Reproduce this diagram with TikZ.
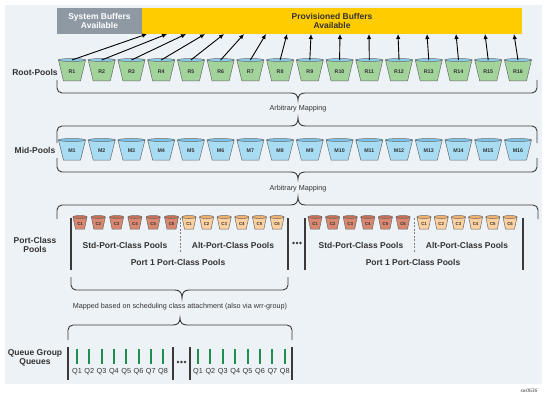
\documentclass[tikz,border=0pt]{standalone}
\usepackage{fontspec}
\setmainfont{Liberation Sans}
\newfontfamily\swfont{Liberation Serif}
\usetikzlibrary{arrows.meta}
\definecolor{panel}{HTML}{EDF2F7}
\definecolor{sysgray}{HTML}{8E99A4}
\definecolor{provyellow}{HTML}{FFCC00}
\definecolor{txt}{HTML}{333333}
\definecolor{rootfill}{HTML}{A2D39B}
\definecolor{rootrim}{HTML}{8ACBEA}
\definecolor{midfill}{HTML}{A8DCF3}
\definecolor{midrim}{HTML}{7BC3E8}
\definecolor{stdfill}{HTML}{D9876F}
\definecolor{stdrim}{HTML}{C86F57}
\definecolor{altfill}{HTML}{FDD09F}
\definecolor{altrim}{HTML}{F2B26E}
\definecolor{bktedge}{HTML}{6A6A6A}
\definecolor{qgreen}{HTML}{1E8F4E}
\definecolor{linec}{HTML}{3A3A3A}
% #1 name, #2 x, #3 y top, #4 half top width, #5 half bottom width, #6 height, #7 colour prefix, #8 label, #9 label size
\newcommand\bucket[9]{%
  \filldraw[fill=#7fill, draw=bktedge, line width=0.5pt] ({#2-#4},#3) -- ({#2+#4},#3) -- ({#2+#5},{#3+#6}) -- ({#2-#5},{#3+#6}) -- cycle;
  \filldraw[fill=#7rim, draw=bktedge, line width=0.5pt] (#2,#3) ellipse [x radius=#4pt, y radius=1.5pt];
  \coordinate (#1-top) at (#2,#3);
  \node[bktlabel, font=\fontsize{#9}{#9}\selectfont\bfseries] (#1) at ({#2},{#3+#6/2+1}) {#8};
}
% brace: #1 xl, #2 xr, #3 y of ends, #4 y of long line, #5 x tip, #6 y tip
\newcommand\tbrace[6]{%
  \draw[brace, rounded corners=5pt] (#1,#3) -- (#1,#4) -- ({#5-7},#4);
  \draw[brace] ({#5-7},#4) .. controls ({#5-2},#4) and (#5,{#4+0.4*(#6-#4)}) .. (#5,#6)
     .. controls (#5,{#4+0.4*(#6-#4)}) and ({#5+2},#4) .. ({#5+7},#4);
  \draw[brace, rounded corners=5pt] ({#5+7},#4) -- (#2,#4) -- (#2,#3);
}
\begin{document}
\begin{tikzpicture}[x=1pt, y=-1pt,
  lbl/.style={font=\fontsize{8.5}{9.5}\selectfont\bfseries, text=txt, align=center, inner sep=0},
  bktlabel/.style={text=txt, inner sep=0},
  small/.style={font=\fontsize{7.2}{8}\selectfont, text=txt, inner sep=0},
  qlbl/.style={font=\fontsize{7.3}{8}\selectfont, text=txt, inner sep=0},
  brace/.style={draw=linec, line width=0.9pt},
  bar/.style={draw=linec, line width=2pt},
  arr/.style={draw=black, line width=0.9pt, -{Latex[length=5pt,width=4.5pt]}},
  qbar/.style={draw=qgreen, line width=2pt},
  sep/.style={draw=gray, line width=0.6pt, dash pattern=on 2pt off 1.5pt}]
\useasboundingbox (0,0) rectangle (548,401);
\fill[panel] (5,5) rectangle (542,384);

% top boxes
\fill[sysgray] (57,8) rectangle (142,34);
\fill[provyellow] (142,8) rectangle (522,34);
\node[lbl, text=white] (sys) at (99.5,21) {System Buffers\\Available};
\node[lbl] (prov) at (332,21) {Provisioned Buffers\\Available};

% left labels
\node[lbl] (lroot) at (35,72) {Root-Pools};
\node[lbl] (lmid) at (35,150) {Mid-Pools};
\node[lbl] (lport) at (35,245) {Port-Class\\Pools};
\node[lbl] (lqueue) at (35,358) {Queue Group\\Queues};

% root pools
\foreach \i in {1,...,16} {
  \pgfmathsetmacro\xx{72+29.73*(\i-1)}
  \bucket{R\i}{\xx}{60}{13.5}{8.5}{21}{root}{R\i}{5.3}
}
\foreach \i/\t in {1/147,2/167,3/186,4/205,5/224,6/244,7/266,8/287,9/311,10/340,11/369,12/398,13/427,14/456,15/485,16/514} {
  \coordinate (p\i) at (\t,34);
  \draw[arr] (R\i-top) -- (p\i);
}
\tbrace{57}{537}{80}{93}{298}{100}
\node[small] (am1) at (298,109) {Arbitrary Mapping};

% mid pools
\tbrace{57}{537}{143}{126}{298}{118}
\foreach \i in {1,...,16} {
  \pgfmathsetmacro\xx{72+29.73*(\i-1)}
  \bucket{M\i}{\xx}{140}{13.5}{8.5}{20}{mid}{M\i}{5.3}
}
\tbrace{57}{537}{158}{172}{298}{179}
\node[small] (am2) at (298,189) {Arbitrary Mapping};

% port-class pools
\tbrace{57}{538}{219}{205}{298}{197}
\draw[bar] (71,218) -- (71,270);
\draw[bar] (288,218) -- (288,270);
\draw[bar] (305,218) -- (305,270);
\draw[bar] (523,218) -- (523,270);
\foreach \k in {293.5,297,300.5} \fill[linec] (\k,243) circle[radius=1.4pt];
\draw[sep] (180.5,218) -- (180.5,252);
\draw[sep] (414,218) -- (414,252);
\foreach \i in {1,...,6} {
  \pgfmathsetmacro\xa{80+18.3*(\i-1)}
  \bucket{sa\i}{\xa}{217}{7}{4.5}{12}{std}{C\i}{4.3}
  \pgfmathsetmacro\xb{189+17.6*(\i-1)}
  \bucket{aa\i}{\xb}{217}{7}{4.5}{12}{alt}{C\i}{4.3}
  \pgfmathsetmacro\xc{315+17.6*(\i-1)}
  \bucket{sb\i}{\xc}{217}{7}{4.5}{12}{std}{C\i}{4.3}
  \pgfmathsetmacro\xd{424+17.2*(\i-1)}
  \bucket{ab\i}{\xd}{217}{7}{4.5}{12}{alt}{C\i}{4.3}
}
\node[lbl] (std1) at (125,245) {Std-Port-Class Pools};
\node[lbl] (alt1) at (233,245) {Alt-Port-Class Pools};
\node[lbl] (port1) at (178,262) {Port 1 Port-Class Pools};
\node[lbl] (std2) at (361,245) {Std-Port-Class Pools};
\node[lbl] (alt2) at (467,245) {Alt-Port-Class Pools};
\node[lbl] (port2) at (413,262) {Port 1 Port-Class Pools};

\tbrace{71}{288}{277}{290}{182}{298}
\node[small] (mapped) at (180,307) {Mapped based on scheduling class attachment (also via wrr-group)};

% queue group queues
\tbrace{68}{292}{340}{325}{180}{318}
\draw[bar] (68,347) -- (68,380);
\draw[bar] (173,347) -- (173,380);
\draw[bar] (190,347) -- (190,380);
\draw[bar] (292,347) -- (292,380);
\foreach \k in {178,181.5,185} \fill[linec] (\k,362) circle[radius=1.4pt];
\foreach \i in {1,...,8} {
  \pgfmathsetmacro\xa{77+12.3*(\i-1)}
  \draw[qbar] (\xa,349) -- (\xa,364);
  \node[qlbl] (qa\i) at (\xa,371.5) {Q\i};
  \pgfmathsetmacro\xb{198+12.4*(\i-1)}
  \draw[qbar] (\xb,349) -- (\xb,364);
  \node[qlbl] (qb\i) at (\xb,371.5) {Q\i};
}

\node[font=\swfont\itshape\fontsize{5.5}{6}\selectfont, text=txt, inner sep=0] (sw) at (529,391) {sw0636};
\end{tikzpicture}
\end{document}
